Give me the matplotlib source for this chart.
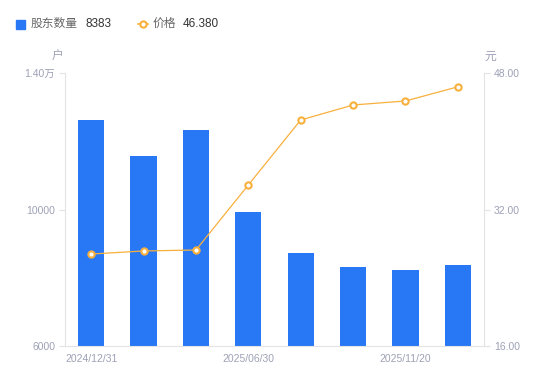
import matplotlib
matplotlib.use('Agg')
import matplotlib.pyplot as plt
from matplotlib.patches import Rectangle
from matplotlib.lines import Line2D

plt.rcParams['font.family'] = ['Liberation Sans', 'Noto Sans CJK SC']

# data
dates = ['2024/12/31', '2025/03/10', '2025/03/31', '2025/06/30',
         '2025/09/10', '2025/09/30', '2025/11/20', '2025/12/10']
holders = [12620, 11570, 12330, 9930, 8720, 8320, 8230, 8383]
price = [26.78, 27.14, 27.25, 34.87, 42.49, 44.25, 44.72, 46.38]

blue = '#2878F5'
orange = '#F8B03D'
grey = '#9DA1B5'
axis_col = '#E3E3E6'

fig = plt.figure(figsize=(5.5, 3.81), dpi=100)
ax = fig.add_axes([65/550, 1 - 346/381, 419/550, 273/381])
x = list(range(len(dates)))
ax.bar(x, [h - 6000 for h in holders], bottom=6000, width=0.5, color=blue, zorder=2)
ax.set_xlim(-0.5, len(dates) - 0.5)
ax.set_ylim(6000, 14000)
ax.set_yticks([6000, 10000, 14000])
ax.set_yticklabels(['6000', '10000', '1.40万'])
ax.set_xticks([0, 3, 6])
ax.set_xticklabels([dates[0], dates[3], dates[6]])

ax2 = ax.twinx()
ax2.plot(x, price, color=orange, lw=0.9, marker='o', ms=4.5, mfc='white',
         mec=orange, mew=1.5, zorder=3)
ax2.set_ylim(16, 48)
ax2.set_yticks([16, 32, 48])
ax2.set_yticklabels(['16.00', '32.00', '48.00'])

for a in (ax, ax2):
    for s in a.spines.values():
        s.set_visible(False)
    a.tick_params(colors=grey, labelsize=7.5, length=4, width=0.8, pad=3)
    a.tick_params(axis='y', color=axis_col)
ax.tick_params(axis='x', length=0, pad=6)
ax.spines['left'].set_visible(True)
ax.spines['left'].set_color(axis_col)
ax.spines['bottom'].set_visible(True)
ax.spines['bottom'].set_color(axis_col)
ax2.spines['right'].set_visible(True)
ax2.spines['right'].set_color(axis_col)
ax.set_zorder(ax2.get_zorder() - 1)
ax2.patch.set_visible(False)
ax.patch.set_visible(False)

# unit labels
fig.text(58/550, 1 - 57/381, '户', color=grey, fontsize=8.5, ha='center', va='center')
fig.text(490/550, 1 - 57/381, '元', color=grey, fontsize=8.5, ha='center', va='center')

# legend
fig.add_artist(Rectangle((16/550, 1 - 29/381), 9/550, 9/381, color=blue,
                         transform=fig.transFigure))
fig.text(31/550, 1 - 24/381, '股东数量', color='#666666', fontsize=8.5, va='center')
fig.text(85/550, 1 - 24/381, '8383', color='#333333', fontsize=8.5, va='center')
fig.add_artist(Line2D([138/550, 143/550, 148/550], [1 - 24/381] * 3, color=orange,
                      lw=1.2, marker='o', ms=4.5, mfc='white', mec=orange, mew=1.5,
                      markevery=[1], transform=fig.transFigure))
fig.text(153/550, 1 - 24/381, '价格', color='#666666', fontsize=8.5, va='center')
fig.text(183/550, 1 - 24/381, '46.380', color='#333333', fontsize=8.5, va='center')

fig.savefig('out.png', dpi=100)
